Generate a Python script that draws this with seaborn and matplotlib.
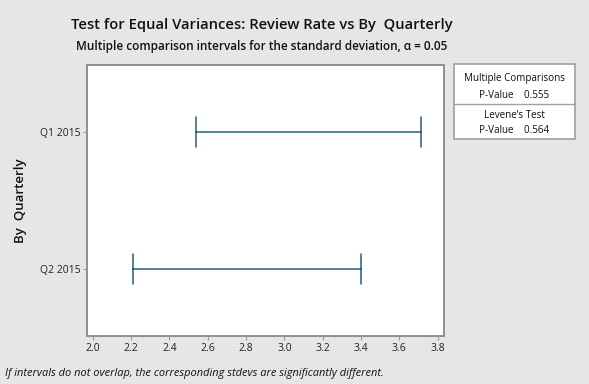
import matplotlib
matplotlib.use("Agg")
from matplotlib import pyplot as plt
from matplotlib.patches import Rectangle
import seaborn as sns
import pandas as pd

# interval bounds for the standard deviation
quarters = ["Q1 2015", "Q2 2015"]
lower = [2.54, 2.21]
upper = [3.715, 3.398]
x_ticks = [2.0, 2.2, 2.4, 2.6, 2.8, 3.0, 3.2, 3.4, 3.6, 3.8]
mc_pvalue = 0.555
levene_pvalue = 0.564

bg = "#e6e6e6"
line_col = "#2b5b7d"

sns.set_theme(style="white")
plt.rcParams["font.family"] = ["Open Sans", "DejaVu Sans"]

# long form: each quarter has its lower and upper bound as two rows
df = pd.DataFrame({
    "Quarter": quarters + quarters,
    "StDev": lower + upper,
})

fig = plt.figure(figsize=(5.89, 3.84), dpi=100, facecolor=bg)
ax = fig.add_axes([0.1482, 0.125, 0.6056, 0.7057])
ax.set_facecolor("white")

sns.pointplot(data=df, x="StDev", y="Quarter", order=quarters,
              estimator="mean", errorbar=("pi", 100), capsize=0.22,
              linestyle="none", markersize=0, color=line_col,
              err_kws={"linewidth": 1.1}, ax=ax)

ax.set_xlim(1.972, 3.833)
ax.set_ylim(1.49, -0.49)
ax.set_xticks(x_ticks)
ax.set_xticklabels([f"{t:.1f}" for t in x_ticks])
ax.tick_params(axis="both", which="both", direction="out", length=3,
               width=0.8, color="#9a9a9a", labelsize=7.5, labelcolor="#222222",
               pad=2, bottom=True, left=True)
ax.set_xlabel("")
ax.set_ylabel("By  Quarterly", fontsize=9.5, fontweight="semibold",
              color="#111111")
ax.yaxis.set_label_coords(-0.169, 0.5)
for s in ax.spines.values():
    s.set_color("#8f8f8f")
    s.set_linewidth(1.4)

fig.text(0.445, 0.935, "Test for Equal Variances: Review Rate vs By  Quarterly",
         ha="center", va="center", fontsize=10.6, fontweight="semibold", color="#111111")
fig.text(0.445, 0.880, "Multiple comparison intervals for the standard deviation, \u03b1 = 0.05",
         ha="center", va="center", fontsize=8.5, fontweight="semibold", color="#111111")
fig.text(0.008, 0.028, "If intervals do not overlap, the corresponding stdevs are significantly different.",
         ha="left", va="center", fontsize=7.9, style="italic", color="#111111")

# p-value box on the right
x0, x1 = 454 / 589, 575 / 589
y0, y1 = 1 - 139 / 384, 1 - 64 / 384
ydiv = 1 - 104 / 384
fig.patches.append(Rectangle((x0, y0), x1 - x0, y1 - y0, transform=fig.transFigure,
                             facecolor="white", edgecolor="#a0a0a0", linewidth=1.2))
fig.add_artist(plt.Line2D([x0, x1], [ydiv, ydiv], transform=fig.transFigure,
                          color="#a0a0a0", linewidth=1.0))
xc = (x0 + x1) / 2
fig.text(xc, 1 - 78 / 384, "Multiple Comparisons", ha="center", va="center",
         fontsize=7.1, color="#111111")
fig.text(xc, 1 - 96 / 384, f"P-Value    {mc_pvalue:.3f}", ha="center", va="center",
         fontsize=7.1, color="#111111")
fig.text(xc, 1 - 115 / 384, "Levene\u2019s Test", ha="center", va="center",
         fontsize=7.1, color="#111111")
fig.text(xc, 1 - 131 / 384, f"P-Value    {levene_pvalue:.3f}", ha="center", va="center",
         fontsize=7.1, color="#111111")

fig.savefig("out.png", dpi=100, facecolor=bg)
